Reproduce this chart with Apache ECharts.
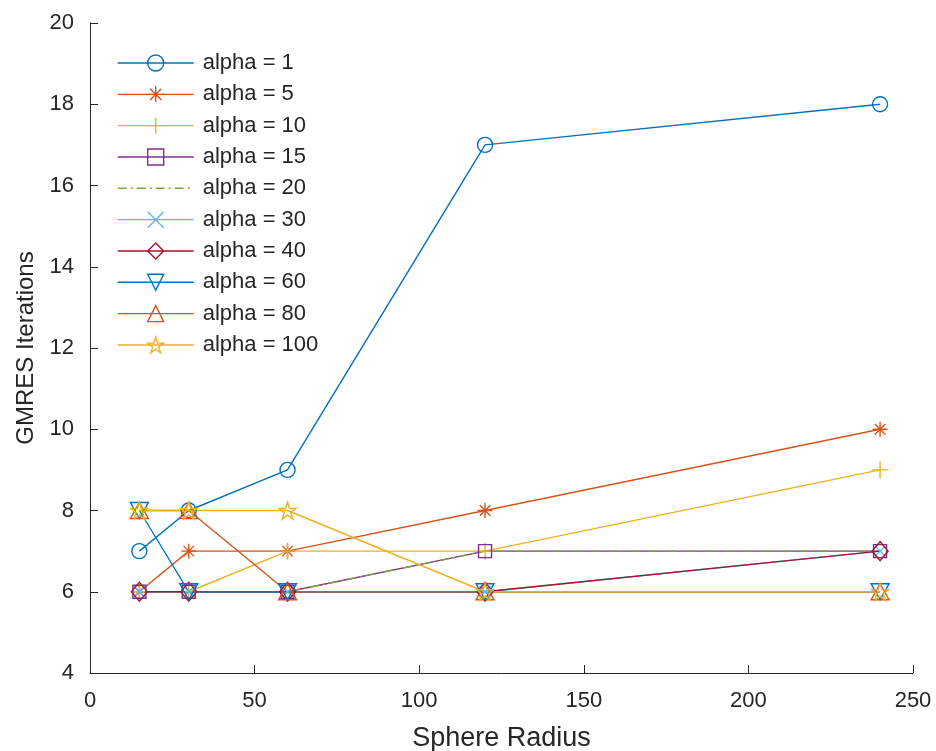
<!DOCTYPE html>
<html>
<head>
<meta charset="utf-8">
<script src="https://cdn.jsdelivr.net/npm/echarts@6/dist/echarts.min.js"></script>
<style>html,body{margin:0;padding:0;background:#fff;}#chart{width:936px;height:751px;}</style>
</head>
<body>
<div id="chart"></div>
<script>
const radii = [15, 30, 60, 120, 240];
const seriesNames = ['alpha = 1','alpha = 5','alpha = 10','alpha = 15','alpha = 20','alpha = 30','alpha = 40','alpha = 60','alpha = 80','alpha = 100'];
const alpha1   = [7, 8, 9, 17, 18];
const alpha5   = [6, 7, 7, 8, 10];
const alpha10  = [6, 6, 7, 7, 9];
const alpha15  = [6, 6, 6, 7, 7];
const alpha20  = [6, 6, 6, 7, 7];
const alpha30  = [6, 6, 6, 6, 7];
const alpha40  = [6, 6, 6, 6, 7];
const alpha60  = [8, 6, 6, 6, 6];
const alpha80  = [8, 8, 6, 6, 6];
const alpha100 = [8, 8, 8, 6, 6];
const xTicks = [0, 50, 100, 150, 200, 250];
const yTicks = [4, 6, 8, 10, 12, 14, 16, 18, 20];

const allValues = [alpha1, alpha5, alpha10, alpha15, alpha20, alpha30, alpha40, alpha60, alpha80, alpha100];
const colors = ['#0072BD','#D95319','#EDB120','#7E2F8E','#77AC30','#4DBEEE','#A2142F','#0072BD','#D95319','#EDB120'];

const STAR = 'path://M0,-100L22.45,-30.9L95.1,-30.9L36.33,11.8L58.8,80.9L0,38.2L-58.8,80.9L-36.33,11.8L-95.1,-30.9L-22.45,-30.9Z';
const ASTER = 'path://M0,-100L0,100M-100,0L100,0M-70,-70L70,70M-70,70L70,-70';
const PLUS = 'path://M0,-100L0,100M-100,0L100,0';
const CROSS = 'path://M-100,-100L100,100M-100,100L100,-100';
const markers = [
  {symbol:'circle', size:15, rot:0},
  {symbol:ASTER, size:15, rot:0},
  {symbol:PLUS, size:17, rot:0},
  {symbol:'rect', size:13, rot:0},
  {symbol:'none', size:0, rot:0},
  {symbol:CROSS, size:11, rot:0},
  {symbol:'diamond', size:[16,19], rot:0},
  {symbol:'triangle', size:[18,16], rot:180},
  {symbol:'triangle', size:[18,16], rot:0},
  {symbol:STAR, size:17, rot:0}
];
const lineTypes = ['solid','solid','solid','solid',[9,4,2,4],'solid','solid','solid','solid','solid'];

const TXT = '#262626';
const FONT = 'Liberation Sans, Arial, Helvetica, sans-serif';

const series = seriesNames.map((name, i) => ({
  type: 'line',
  name: name,
  data: radii.map((x, j) => [x, allValues[i][j]]),
  symbol: markers[i].symbol,
  symbolSize: markers[i].size,
  symbolRotate: markers[i].rot,
  showAllSymbol: true,
  lineStyle: {color: colors[i], width: 1.4, type: lineTypes[i]},
  itemStyle: {color: 'rgba(0,0,0,0)', borderColor: colors[i], borderWidth: 1.4},
  emphasis: {disabled: true},
  animation: false,
  z: 2
}));

const legendData = seriesNames.map((name, i) => ({
  name: name,
  itemStyle: {color: 'rgba(0,0,0,0)', borderColor: colors[i], borderWidth: markers[i].symbol === 'none' ? 0 : 1.4},
  lineStyle: {color: colors[i], width: 1.4, type: lineTypes[i]}
}));

const chart = echarts.init(document.getElementById('chart'), null, {renderer: 'canvas'});
chart.setOption({
  backgroundColor: '#fff',
  animation: false,
  grid: {left: 90, right: 23, top: 23, bottom: 78, containLabel: false, outerBoundsMode: 'none'},
  legend: {
    orient: 'vertical',
    left: 117,
    top: 52,
    padding: 0,
    itemWidth: 76,
    itemHeight: 20,
    itemGap: 9.33,
    selectedMode: false,
    data: legendData,
    textStyle: {color: TXT, fontSize: 22, fontFamily: FONT, lineHeight: 20, padding: [0, 0, 0, 4]}
  },
  xAxis: {
    type: 'value',
    min: xTicks[0],
    max: xTicks[xTicks.length - 1],
    interval: 50,
    name: 'Sphere Radius',
    nameLocation: 'middle',
    nameGap: 52,
    nameTextStyle: {color: TXT, fontSize: 27, fontFamily: FONT},
    axisLine: {show: true, lineStyle: {color: TXT, width: 1}},
    axisTick: {show: true, inside: true, length: 8, lineStyle: {color: TXT}},
    axisLabel: {color: TXT, fontSize: 22, fontFamily: FONT, margin: 17},
    splitLine: {show: false}
  },
  yAxis: {
    type: 'value',
    min: yTicks[0],
    max: yTicks[yTicks.length - 1],
    interval: 2,
    name: 'GMRES Iterations',
    nameLocation: 'middle',
    nameGap: 52,
    nameTextStyle: {color: TXT, fontSize: 24, fontFamily: FONT},
    axisLine: {show: true, lineStyle: {color: TXT, width: 1}},
    axisTick: {show: true, inside: true, length: 8, lineStyle: {color: TXT}},
    axisLabel: {color: TXT, fontSize: 22, fontFamily: FONT, margin: 16},
    splitLine: {show: false}
  },
  series: series
});
</script>
</body>
</html>
